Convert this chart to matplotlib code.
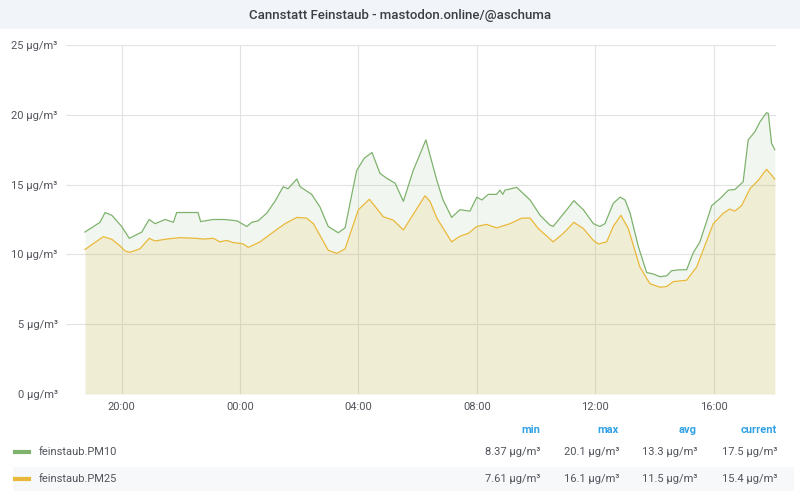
import numpy as np
import matplotlib.pyplot as plt
from matplotlib.lines import Line2D
from matplotlib.patches import Rectangle

plt.rcParams['font.family'] = ['Roboto', 'DejaVu Sans']

# hours relative to midnight (negative = previous evening)
pm10_t = [-5.24, -4.73, -4.56, -4.33, -4.0, -3.74, -3.32, -3.07, -2.87, -2.53,
          -2.25, -2.14, -1.93, -1.42, -1.33, -0.91, -0.51, -0.10, 0.23, 0.40,
          0.61, 0.90, 1.18, 1.46, 1.62, 1.92, 2.03, 2.42, 2.70, 2.98,
          3.32, 3.55, 3.83, 3.94, 4.20, 4.46, 4.73, 4.96, 5.24, 5.52,
          5.85, 6.28, 6.42, 6.65, 6.85, 7.15, 7.43, 7.77, 8.0, 8.17,
          8.39, 8.67, 8.78, 8.88, 8.95, 9.35, 9.80, 10.14, 10.47, 10.58,
          11.04, 11.28, 11.6, 11.94, 12.16, 12.33, 12.61, 12.84, 13.01, 13.18,
          13.46, 13.74, 13.96, 14.19, 14.42, 14.58, 14.86, 15.09, 15.31, 15.54,
          15.94, 16.22, 16.50, 16.72, 17.0, 17.17, 17.40, 17.57, 17.79, 17.85,
          17.96, 18.07]
pm10 = [11.6, 12.3, 13.0, 12.8, 12.0, 11.15, 11.6, 12.5, 12.2, 12.5,
        12.3, 13.0, 13.0, 13.0, 12.35, 12.5, 12.5, 12.4, 12.0, 12.3,
        12.4, 12.95, 13.8, 14.85, 14.7, 15.4, 14.85, 14.3, 13.4, 12.0,
        11.55, 11.9, 14.85, 16.0, 16.9, 17.3, 15.8, 15.45, 15.1, 13.8,
        16.0, 18.2, 17.1, 15.3, 13.95, 12.65, 13.2, 13.1, 14.1, 13.9,
        14.3, 14.3, 14.6, 14.3, 14.6, 14.8, 13.9, 12.8, 12.1, 12.0,
        13.2, 13.85, 13.2, 12.2, 12.0, 12.2, 13.65, 14.1, 13.9, 12.95,
        10.55, 8.7, 8.6, 8.4, 8.47, 8.83, 8.9, 8.9, 10.1, 10.9,
        13.5, 14.0, 14.6, 14.65, 15.2, 18.2, 18.8, 19.5, 20.15, 20.1,
        17.95, 17.5]

pm25_t = [-5.24, -4.62, -4.33, -4.05, -3.89, -3.72, -3.38, -3.07, -2.87, -2.48,
          -2.03, -1.46, -1.24, -0.90, -0.68, -0.45, -0.23, 0.11, 0.28, 0.68,
          1.12, 1.52, 1.92, 2.25, 2.48, 2.98, 3.27, 3.55, 4.0, 4.37,
          4.84, 5.18, 5.52, 6.25, 6.42, 6.65, 7.15, 7.43, 7.71, 8.0,
          8.33, 8.67, 9.12, 9.52, 9.80, 10.08, 10.58, 10.92, 11.28, 11.6,
          11.94, 12.11, 12.39, 12.61, 12.87, 13.12, 13.51, 13.85, 14.19, 14.42,
          14.64, 15.09, 15.43, 15.99, 16.33, 16.55, 16.72, 16.95, 17.23, 17.51,
          17.79, 18.07]
pm25 = [10.35, 11.27, 11.08, 10.6, 10.25, 10.15, 10.4, 11.15, 10.96, 11.1,
        11.2, 11.15, 11.1, 11.15, 10.9, 11.0, 10.85, 10.75, 10.5, 10.9,
        11.6, 12.2, 12.65, 12.6, 12.2, 10.3, 10.07, 10.4, 13.2, 13.95,
        12.7, 12.45, 11.75, 14.2, 13.8, 12.6, 10.9, 11.3, 11.5, 12.0,
        12.15, 11.9, 12.2, 12.6, 12.6, 11.85, 10.9, 11.5, 12.3, 11.85,
        11.0, 10.75, 10.9, 12.0, 12.8, 11.85, 9.1, 7.9, 7.65, 7.7,
        8.05, 8.15, 9.1, 12.2, 12.95, 13.25, 13.1, 13.5, 14.7, 15.3,
        16.1, 15.4]

tick_hours = [-4, 0, 4, 8, 12, 16]
tick_labels = ["20:00", "00:00", "04:00", "08:00", "12:00", "16:00"]
y_ticks = [0, 5, 10, 15, 20, 25]

series_names = ["feinstaub.PM10", "feinstaub.PM25"]
stat_headers = ["min", "max", "avg", "current"]
stats = [["8.37 µg/m³", "20.1 µg/m³", "13.3 µg/m³", "17.5 µg/m³"],
         ["7.61 µg/m³", "16.1 µg/m³", "11.5 µg/m³", "15.4 µg/m³"]]

green = "#7eb26d"
yellow = "#eab839"
txt = "#52545c"

fig = plt.figure(figsize=(8, 5), dpi=100)
fig.patch.set_facecolor("white")

# title bar
fig.patches.append(Rectangle((0, 1 - 29 / 500), 1, 29 / 500, transform=fig.transFigure,
                             facecolor="#f1f4f9", edgecolor="none", zorder=0))
fig.text(0.5, 1 - 15 / 500, "Cannstatt Feinstaub - mastodon.online/@aschuma",
         ha="center", va="center", fontsize=9.5, color="#3c3e45", fontweight="medium")

ax = fig.add_axes([66 / 800, 1 - 394 / 500, 710 / 800, 349 / 500])
ax.fill_between(pm10_t, pm10, 0, color=green, alpha=0.1, linewidth=0)
ax.fill_between(pm25_t, pm25, 0, color=yellow, alpha=0.15, linewidth=0)
ax.plot(pm10_t, pm10, color=green, linewidth=0.9)
ax.plot(pm25_t, pm25, color=yellow, linewidth=0.9)

ax.set_xlim(-5.88, 18.11)
ax.set_ylim(0, 25)
ax.set_xticks(tick_hours)
ax.set_xticklabels(tick_labels)
ax.set_yticks(y_ticks)
ax.set_yticklabels([f"{v} µg/m³" for v in y_ticks])
ax.tick_params(length=0, labelsize=8, colors=txt, pad=6)
ax.grid(True, color="#e2e2e2", linewidth=0.8)
ax.set_axisbelow(True)
for s in ax.spines.values():
    s.set_visible(False)

# legend table
cols_x = [540, 619, 697, 777]
for x, h in zip(cols_x, stat_headers):
    fig.text(x / 800, 1 - 430 / 500, h, ha="right", va="center",
             fontsize=8, color="#33a2e5", fontweight="bold")

rows_y = [452, 479]
fig.patches.append(Rectangle((13 / 800, 1 - 491 / 500), 781 / 800, 24 / 500,
                             transform=fig.transFigure, facecolor="#f7f8fa",
                             edgecolor="none", zorder=0))
for name, color, y, row in zip(series_names, [green, yellow], rows_y, stats):
    fig.add_artist(Line2D([15 / 800, 29 / 800], [1 - y / 500] * 2,
                          transform=fig.transFigure, color=color, linewidth=3))
    fig.text(39 / 800, 1 - y / 500, name, ha="left", va="center", fontsize=8, color=txt)
    for x, v in zip(cols_x, row):
        fig.text(x / 800, 1 - y / 500, v, ha="right", va="center", fontsize=8, color=txt)

fig.savefig("out.png", dpi=100)
